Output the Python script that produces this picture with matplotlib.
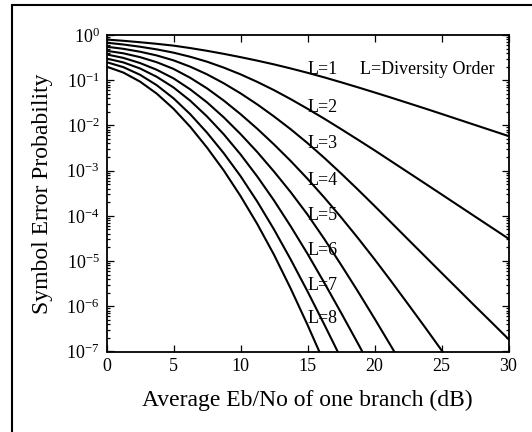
import matplotlib
matplotlib.use("Agg")
import matplotlib.pyplot as plt
from matplotlib.patches import Rectangle
from matplotlib.ticker import LogLocator, NullFormatter, FixedLocator

plt.rcParams['font.family'] = ['Liberation Serif', 'DejaVu Serif']
plt.rcParams['mathtext.fontset'] = 'custom'
plt.rcParams['mathtext.rm'] = 'Liberation Serif'
plt.rcParams['mathtext.it'] = 'Liberation Serif:italic'

# Average Eb/No of one branch (dB)
ebno_db = [0, 1.25, 2.5, 3.75, 5, 6.25, 7.5, 8.75, 10, 11.25, 12.5, 13.75, 15,
           16.25, 17.5, 18.75, 20, 21.25, 22.5, 23.75, 25, 26.25, 27.5, 28.75, 30]

# Symbol error probability, one list per diversity order
ser_L1 = [0.794, 0.745, 0.692, 0.638, 0.582, 0.514, 0.447, 0.383, 0.324, 0.271, 0.224, 0.182, 0.146,
          0.1156, 0.0902, 0.0698, 0.0537, 0.0411, 0.0313, 0.0238, 0.0180, 0.01357, 0.01023, 0.00772, 0.00582]
ser_L2 = [0.676, 0.617, 0.550, 0.481, 0.407, 0.330, 0.257, 0.190, 0.135, 0.0918, 0.0603, 0.0381, 0.0234,
          0.0141, 8.32e-3, 4.86e-3, 2.82e-3, 1.61e-3, 9.2e-4, 5.25e-4, 2.99e-4, 1.70e-4, 9.66e-5, 5.50e-5, 3.13e-5]
ser_L3 = [0.550, 0.495, 0.427, 0.353, 0.275, 0.199, 0.135, 0.0856, 0.0513, 0.0292, 0.0158, 8.22e-3, 4.07e-3,
          1.92e-3, 8.71e-4, 3.84e-4, 1.66e-4, 7.10e-5, 3.02e-5, 1.29e-5, 5.50e-6, 2.36e-6, 1.01e-6, 4.37e-7, 1.88e-7]
ser_L4 = [0.447, 0.394, 0.324, 0.250, 0.178, 0.113, 0.0661, 0.0355, 0.0178, 8.45e-3, 3.80e-3, 1.63e-3, 6.61e-4,
          2.55e-4, 9.33e-5, 3.27e-5, 1.10e-5, 3.56e-6, 1.12e-6, 3.50e-7, 1.07e-7, 3.31e-8]
ser_L5 = [0.372, 0.312, 0.240, 0.170, 0.110, 0.0627, 0.0324, 0.0151, 6.46e-3, 2.58e-3, 9.55e-4, 3.33e-4, 1.07e-4,
          3.09e-5, 8.32e-6, 2.16e-6, 5.37e-7, 1.29e-7, 3.02e-8]
ser_L6 = [0.302, 0.248, 0.182, 0.119, 0.0692, 0.0352, 0.0158, 6.37e-3, 2.29e-3, 7.43e-4, 2.19e-4, 5.85e-5, 1.45e-5,
          3.32e-6, 7.24e-7, 1.53e-7, 3.16e-8]
ser_L7 = [0.251, 0.195, 0.132, 0.0776, 0.0398, 0.0177, 6.92e-3, 2.43e-3, 7.59e-4, 2.07e-4, 5.01e-5, 1.08e-5, 2.14e-6,
          3.97e-7, 7.08e-8]
ser_L8 = [0.200, 0.148, 0.0933, 0.0505, 0.0234, 9.31e-3, 3.24e-3, 1.01e-3, 2.75e-4, 6.61e-5, 1.38e-5, 2.45e-6, 3.89e-7,
          5.62e-8]

series = [ser_L1, ser_L2, ser_L3, ser_L4, ser_L5, ser_L6, ser_L7, ser_L8]
curve_labels = ['L=1', 'L=2', 'L=3', 'L=4', 'L=5', 'L=6', 'L=7', 'L=8']
label_x = 15.0
label_y = [1.35e-1, 2.0e-2, 3.2e-3, 4.8e-4, 8.1e-5, 1.35e-5, 2.3e-6, 4.2e-7]
note_text = 'L=Diversity Order'
note_x = 18.9

xticks = [0, 5, 10, 15, 20, 25, 30]

W, H = 532, 432
fig = plt.figure(figsize=(W / 100, H / 100), dpi=100)
ax = fig.add_axes([106.5 / W, 1 - 351.5 / H, 402 / W, 316.5 / H])

for y in series:
    ax.plot(ebno_db[:len(y)], y, color='black', lw=1.5, solid_joinstyle='round')

ax.set_yscale('log')
ax.set_xlim(0, 30)
ax.set_ylim(1e-7, 1)
ax.xaxis.set_major_locator(FixedLocator(xticks))
ax.yaxis.set_major_locator(LogLocator(base=10, numticks=20))
ax.yaxis.set_minor_locator(LogLocator(base=10, subs=range(2, 10), numticks=20))
ax.yaxis.set_minor_formatter(NullFormatter())

ax.tick_params(which='both', direction='in', top=True, right=True, width=0.9, colors='black')
ax.tick_params(which='major', length=5, labelsize=13)
ax.tick_params(which='minor', length=2.5)
ax.tick_params(axis='x', pad=5)
ax.tick_params(axis='y', pad=5)
for s in ax.spines.values():
    s.set_linewidth(1.3)

for txt, yv in zip(curve_labels, label_y):
    ax.text(label_x, yv, txt, fontsize=13, ha='left', va='baseline')
ax.text(note_x, label_y[0], note_text, fontsize=13, ha='left', va='baseline')

ax.set_xlabel('Average Eb/No of one branch (dB)', fontsize=17)
ax.set_ylabel('Symbol Error Probability', fontsize=17)
ax.xaxis.label.set_va('center')
ax.yaxis.label.set_va('center')
ax.xaxis.set_label_coords(0.5, -(400 - 351.5) / 316.5)
ax.yaxis.set_label_coords((43 - 106.5) / 402, 0.5)

fig.add_artist(Rectangle((11.5 / W, -0.1), 1.2, 1.1 - 5.5 / H, transform=fig.transFigure,
                         fill=False, lw=1.5, ec='black'))

fig.savefig('out.png', dpi=100, facecolor='white')
